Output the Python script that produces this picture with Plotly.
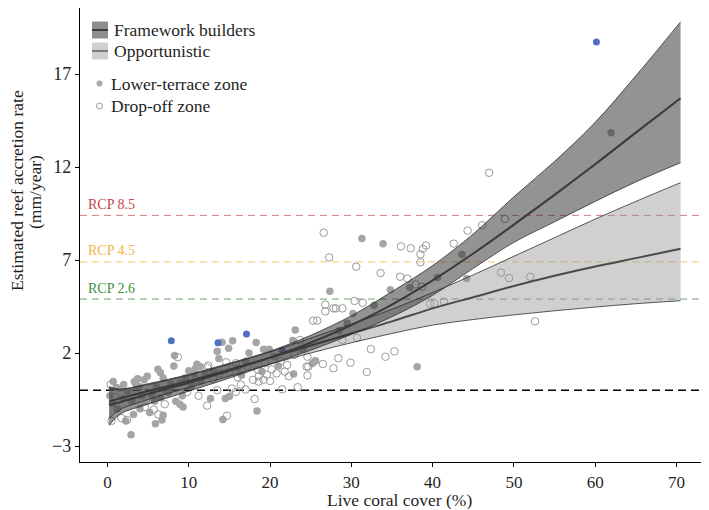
import plotly.graph_objects as go

# ---------------- data ----------------
fit_x = [0.2, 1.5, 5, 10, 15, 20, 25, 30, 35, 40, 45, 50, 55, 60, 65, 70.5]
fw_fit = [-0.8, -0.65, -0.2, 0.4, 1.05, 1.75, 2.55, 3.5, 4.6, 5.9, 7.35, 8.9, 10.5, 12.15, 13.85, 15.7]
fw_lo = [-1.9, -1.3, -0.75, -0.05, 0.65, 1.4, 2.15, 3.0, 3.95, 5.1, 6.55, 7.95, 9.05, 10.15, 11.2, 12.23]
fw_hi = [0.2, 0.05, 0.35, 0.85, 1.45, 2.1, 2.95, 4.0, 5.3, 6.7, 8.4, 10.4, 12.3, 14.4, 16.9, 19.8]
op_fit = [-0.6, -0.45, -0.05, 0.5, 1.1, 1.75, 2.4, 3.05, 3.7, 4.4, 5.0, 5.6, 6.15, 6.65, 7.1, 7.6]
op_lo = [-1.5, -1.05, -0.5, 0.15, 0.75, 1.4, 2.0, 2.55, 3.05, 3.5, 3.8, 4.05, 4.27, 4.47, 4.65, 4.81]
op_hi = [0.1, 0.05, 0.3, 0.8, 1.4, 2.05, 2.8, 3.55, 4.35, 5.25, 6.2, 7.2, 8.2, 9.2, 10.15, 11.16]

lower_pts = [
    (0.3, -0.3), (0.7, 0.47), (1.1, 0.15), (1.6, 0.1), (0.6, -0.7), (1.2, -1.0), (2.25, -1.65),
    (2.9, -2.4), (1.9, -0.45), (2.5, -0.05), (3.3, 0.45), (3.5, 0.3), (3.7, 0.62), (3.9, 0.2),
    (4.5, 0.56), (4.9, 0.75), (4.2, -0.3), (5.5, -0.25), (5.8, -0.6), (6.2, 1.12), (6.5, 0.95),
    (6.85, 0.65), (6.0, 0.2), (6.5, -0.4), (6.85, -1.35), (6.7, -1.6), (5.9, -1.8), (7.5, -0.1),
    (7.8, 0.3), (8.16, 1.3), (8.24, 1.87), (8.4, -0.6), (8.9, -0.75), (9.3, -0.9), (9.0, 0.4),
    (9.6, 0.65), (10.0, 1.05), (10.6, 0.9), (10.8, 1.16), (11.0, 1.4), (11.4, 1.27), (11.5, 0.5),
    (12.0, 0.85), (12.67, -0.44), (5.2, -1.2), (4.0, -1.0), (3.0, -0.6), (2.0, 0.3), (7.2, 0.0),
    (10.3, 0.2), (9.2, -0.3), (3.2, -1.3),
    (13.5, 2.1), (13.7, 1.7), (14.1, 2.58), (14.9, 2.26), (15.4, 2.66), (14.5, -0.45), (15.0, -0.32),
    (14.2, -1.57), (18.3, 2.57), (17.4, 2.0), (19.2, 2.2), (19.9, 2.2), (18.4, -1.12), (23.1, 3.24),
    (22.8, 2.67), (22.9, 0.87), (25.2, 1.44), (25.6, 1.59), (16.0, 1.2), (17.0, 1.55), (20.5, 1.8),
    (21.0, 1.3), (24.0, 2.2), (16.5, 0.8), (13.0, 1.0), (19.0, 1.0),
    (27.35, 5.32), (30.2, 4.13), (31.3, 8.15), (33.9, 7.88), (32.8, 4.57), (34.8, 5.4), (37.2, 5.52),
    (38.1, 1.26), (40.6, 6.06), (43.6, 7.3), (44.2, 6.0), (25.5, 1.55), (28.5, 3.2), (29.5, 3.6),
    (61.95, 13.84),
]
dropoff_pts = [
    (0.5, -1.65), (1.7, -1.5), (0.4, 0.3), (0.9, -0.35), (2.4, -1.6), (5.7, -1.05), (6.25, -1.3),
    (7.05, -0.75), (8.65, 1.77), (12.3, 1.22), (12.26, -0.83), (13.5, 0.0), (4.6, -0.9), (3.6, 0.0),
    (9.8, -0.1), (11.2, -0.3), (10.9, 0.55),
    (14.7, -1.37), (15.3, 0.09), (15.8, -0.09), (16.4, 0.3), (17.0, 0.04), (18.1, -0.47), (18.6, 0.46),
    (19.2, 0.56), (18.6, 0.75), (17.9, 0.56), (19.6, 0.83), (20.2, 1.12), (21.3, 1.57), (22.1, 1.36),
    (21.5, 0.05), (22.3, 0.75), (23.4, 0.16), (23.7, 2.69), (24.6, 1.8), (24.7, 1.26), (24.6, 0.79),
    (12.4, 1.33), (14.6, 1.5), (15.8, 1.45), (17.2, 1.3), (18.5, 1.1), (19.4, 1.45), (20.8, 0.9),
    (13.0, 0.6), (16.0, 0.7), (13.8, 0.9), (15.0, 1.0), (20.0, 0.5), (23.0, 1.9), (21.8, 1.0),
    (25.3, 3.74), (25.8, 3.74), (26.5, 1.41), (26.6, 8.47), (26.8, 4.6), (26.8, 4.24), (27.27, 7.14),
    (27.8, 1.18), (27.8, 4.4), (28.1, 4.4), (28.4, 1.72), (28.9, 4.4), (28.9, 2.7), (29.9, 1.48),
    (30.4, 4.8), (30.6, 6.64), (30.7, 2.82), (31.4, 4.7), (31.9, 0.98), (32.4, 2.21), (33.6, 6.3),
    (34.2, 1.8), (35.3, 2.09), (36.0, 6.1), (36.1, 7.73), (36.9, 6.0), (37.3, 7.63), (37.9, 5.69),
    (38.5, 7.3), (38.5, 6.88), (38.7, 5.56), (38.8, 7.6), (39.2, 7.78), (39.7, 4.65), (40.2, 4.65),
    (41.4, 4.76), (42.6, 7.88), (44.3, 8.58), (46.1, 8.87), (46.95, 11.69), (48.9, 9.2), (48.4, 6.32),
    (49.4, 6.03), (52.0, 6.1), (52.6, 3.7), (24.5, 1.27),
]
blue_pts = [(7.85, 2.66), (13.6, 2.55), (17.1, 3.02), (21.5, 2.13), (60.15, 18.72)]

rcp_names = ["RCP 8.5", "RCP 4.5", "RCP 2.6"]
rcp_values = [9.4, 6.9, 4.9]
rcp_text_colors = ["#c0474a", "#f2b443", "#3e8e3e"]
rcp_line_colors = ["#d07a7c", "#f5c46a", "#6aa46a"]

x_ticks = [0, 10, 20, 30, 40, 50, 60, 70]
y_ticks = [-3, 2, 7, 12, 17]

FONT = "Liberation Serif"
TXT = "#1f1f1f"

# The page body has an 8px margin, so the figure is drawn 8px right/down
# in the window. Layout is described in window pixels and converted.
OFF = 8
FIG_W, FIG_H = 709 - OFF, 510 - OFF
L, R, T, B = 80, 709, 8, 462          # plot area in window pixels


def pxx(p):
    return (p - L) / (R - L)


def pyy(p):
    return (B - p) / (B - T)


fig = go.Figure()

# points
fig.add_trace(go.Scatter(x=[p[0] for p in lower_pts], y=[p[1] for p in lower_pts], mode="markers",
                         marker=dict(size=7.5, color="#a5a5a5", line=dict(width=0)), showlegend=False))
fig.add_trace(go.Scatter(x=[p[0] for p in dropoff_pts], y=[p[1] for p in dropoff_pts], mode="markers",
                         marker=dict(size=7.5, symbol="circle-open", color="#9a9a9a", line=dict(width=1)),
                         showlegend=False))
fig.add_trace(go.Scatter(x=[p[0] for p in blue_pts], y=[p[1] for p in blue_pts], mode="markers",
                         marker=dict(size=7, color="#4f70c2", line=dict(width=0)), showlegend=False))


def band(lo, hi, fit, fill, fitcol):
    fig.add_trace(go.Scatter(x=fit_x, y=lo, mode="lines", line=dict(color="#2e2e2e", width=0.8, shape="spline"),
                             showlegend=False, hoverinfo="skip"))
    fig.add_trace(go.Scatter(x=fit_x, y=hi, mode="lines", fill="tonexty", fillcolor=fill,
                             line=dict(color="#2e2e2e", width=0.8, shape="spline"), showlegend=False,
                             hoverinfo="skip"))
    fig.add_trace(go.Scatter(x=fit_x, y=fit, mode="lines", line=dict(color=fitcol, width=2, shape="spline"),
                             showlegend=False))


band(op_lo, op_hi, op_fit, "rgba(150,150,150,0.45)", "#4a4a4a")
band(fw_lo, fw_hi, fw_fit, "rgba(40,40,40,0.5)", "#3a3a3a")

shapes = []
annotations = []

# zero line
shapes.append(dict(type="line", xref="paper", x0=0, x1=1, yref="y", y0=0, y1=0,
                   line=dict(color="black", width=1.6, dash="8px,5px"), layer="below"))
# RCP lines and labels
for name, val, tc, lc in zip(rcp_names, rcp_values, rcp_text_colors, rcp_line_colors):
    shapes.append(dict(type="line", xref="paper", x0=0, x1=1, yref="y", y0=val, y1=val,
                       line=dict(color=lc, width=1, dash="7px,5px"), layer="below"))
    annotations.append(dict(text=name, xref="paper", x=pxx(86), yref="y", y=val, yshift=11,
                            xanchor="left", yanchor="middle", showarrow=False,
                            font=dict(family=FONT, size=14, color=tc)))

# manual legend
shapes.append(dict(type="rect", xref="paper", yref="paper", x0=pxx(92), x1=pxx(108), y0=pyy(38.5), y1=pyy(21.5),
                   fillcolor="#8e8e8e", line=dict(width=0)))
shapes.append(dict(type="line", xref="paper", yref="paper", x0=pxx(92), x1=pxx(108), y0=pyy(30), y1=pyy(30),
                   line=dict(color="#3d3d3d", width=2)))
shapes.append(dict(type="rect", xref="paper", yref="paper", x0=pxx(92), x1=pxx(108), y0=pyy(59.5), y1=pyy(42.5),
                   fillcolor="#cfcfcf", line=dict(width=0)))
shapes.append(dict(type="line", xref="paper", yref="paper", x0=pxx(92), x1=pxx(108), y0=pyy(51), y1=pyy(51),
                   line=dict(color="#7a7a7a", width=2)))
shapes.append(dict(type="circle", xref="paper", yref="paper", xsizemode="pixel", ysizemode="pixel",
                   xanchor=pxx(99.5), yanchor=pyy(83.5), x0=-3, x1=3, y0=-3, y1=3,
                   fillcolor="#a8a8a8", line=dict(width=0)))
shapes.append(dict(type="circle", xref="paper", yref="paper", xsizemode="pixel", ysizemode="pixel",
                   xanchor=pxx(99.5), yanchor=pyy(106), x0=-3, x1=3, y0=-3, y1=3,
                   fillcolor="white", line=dict(color="#9a9a9a", width=1)))
for txt, yy, xx in [("Framework builders", 30, 112), ("Opportunistic", 51, 112),
                    ("Lower-terrace zone", 83.5, 109), ("Drop-off zone", 106, 109)]:
    annotations.append(dict(text=txt, xref="paper", yref="paper", x=pxx(xx), y=pyy(yy), xanchor="left",
                            yanchor="middle", showarrow=False, font=dict(family=FONT, size=17.5, color=TXT)))

# axis titles
annotations.append(dict(text="Estimated reef accretion rate", xref="paper", yref="paper", x=pxx(17), y=pyy(191),
                        textangle=-90, xanchor="center", yanchor="middle", showarrow=False,
                        font=dict(family=FONT, size=17.5, color=TXT)))
annotations.append(dict(text="(mm/year)", xref="paper", yref="paper", x=pxx(35), y=pyy(192),
                        textangle=-90, xanchor="center", yanchor="middle", showarrow=False,
                        font=dict(family=FONT, size=17.5, color=TXT)))
annotations.append(dict(text="Live coral cover (%)", xref="paper", yref="paper", x=pxx(399), y=pyy(500),
                        xanchor="center", yanchor="middle", showarrow=False, height=18,
                        font=dict(family=FONT, size=17.5, color=TXT)))

fig.update_layout(
    width=FIG_W, height=FIG_H,
    margin=dict(l=L - OFF, r=FIG_W - (R - OFF), t=T - OFF, b=FIG_H - (B - OFF), pad=0),
    paper_bgcolor="white", plot_bgcolor="white",
    showlegend=False,
    shapes=shapes, annotations=annotations,
    xaxis=dict(range=[-3.38, 74.0], tickvals=x_ticks, showgrid=False, zeroline=False, showline=True,
               linecolor="black", linewidth=1.3, ticks="outside", ticklen=4, tickcolor="black",
               tickfont=dict(family=FONT, size=17, color=TXT)),
    yaxis=dict(range=[-3.86, 2 + (353 - 8) / 18.6], tickvals=y_ticks, showgrid=False, zeroline=False,
               showline=True, linecolor="black", linewidth=1.3, ticks="outside", ticklen=4, tickcolor="black",
               tickfont=dict(family=FONT, size=18, color=TXT)),
)

fig.write_html("out.html")
